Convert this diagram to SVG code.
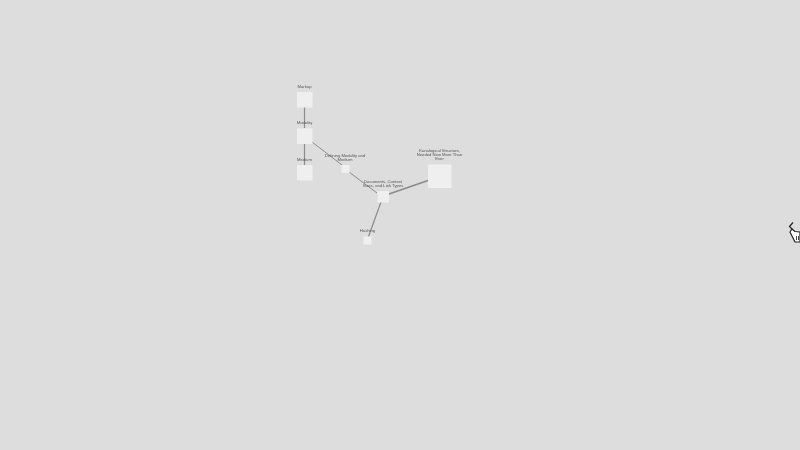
<svg xmlns="http://www.w3.org/2000/svg" width="800" height="450" viewBox="0 0 800 450">
<style>
.n{fill:#efefef}
.e{stroke:#8c8c8c;fill:none}
text{font-family:"Liberation Sans",Arial,sans-serif;font-size:4.2px;fill:#555;text-anchor:middle}
</style>
<defs><filter id="b" x="0" y="0" width="1" height="1"><feGaussianBlur stdDeviation="0.3"/></filter></defs>
<rect width="800" height="450" fill="#dddddd"/>
<g filter="url(#b)">
<g id="connectors">
<line class="e" x1="304.500" y1="107" x2="304.500" y2="128" stroke-width="1.200"/>
<line class="e" x1="304.500" y1="144" x2="304.500" y2="165" stroke-width="1.200"/>
<line class="e" x1="312" y1="142" x2="342" y2="165" stroke-width="1"/>
<line class="e" x1="349" y1="172" x2="377" y2="193" stroke-width="1"/>
<line class="e" x1="389" y1="194" x2="428" y2="180.500" stroke-width="1.800"/>
<line class="e" x1="381" y1="202" x2="368.500" y2="236.500" stroke-width="1.200"/>
</g>
<g id="markup"><rect class="n" x="297" y="92" width="15.500" height="15.500"/><text x="304.500" y="87.500">Markup</text></g>
<g id="modality"><rect class="n" x="297" y="128.500" width="15.500" height="15.500"/><text x="304.500" y="124.300">Modality</text></g>
<g id="medium"><rect class="n" x="297" y="165" width="15.500" height="15.500"/><text x="304.500" y="160.800">Medium</text></g>
<g id="defining"><rect class="n" x="341.500" y="165" width="8" height="8"/><text x="345" y="157">Defining Modality and</text><text x="345" y="161">Medium</text></g>
<g id="documents"><rect class="n" x="377.500" y="191" width="11.500" height="11.500"/><text x="383" y="182.500">Documents, Context</text><text x="383" y="186.500">Sizes, and Link Types</text></g>
<g id="kanalogical"><rect class="n" x="428" y="164.500" width="23.500" height="23.500"/><text x="439.500" y="152.300">Kanalogical Structure,</text><text x="439.500" y="156.300">Needed Now More Than</text><text x="439.500" y="160.300">Ever</text></g>
<g id="hashing"><rect class="n" x="363.500" y="236.500" width="8" height="8"/><text x="367.500" y="232.300">Hashing</text></g>
<g id="cursor" fill="#fff" stroke="#222" stroke-width="1.200" stroke-linejoin="round">
<path d="M793 222.500L789.500 226.500L792.500 229.500" fill="none"/>
<path d="M792 229L795 231.500L800 232L800 242L795 242L792 236L790 232Z"/>
<path d="M796.500 236V240M798.500 236V240" fill="none" stroke-width=".8"/>
</g>
</g>
</svg>
